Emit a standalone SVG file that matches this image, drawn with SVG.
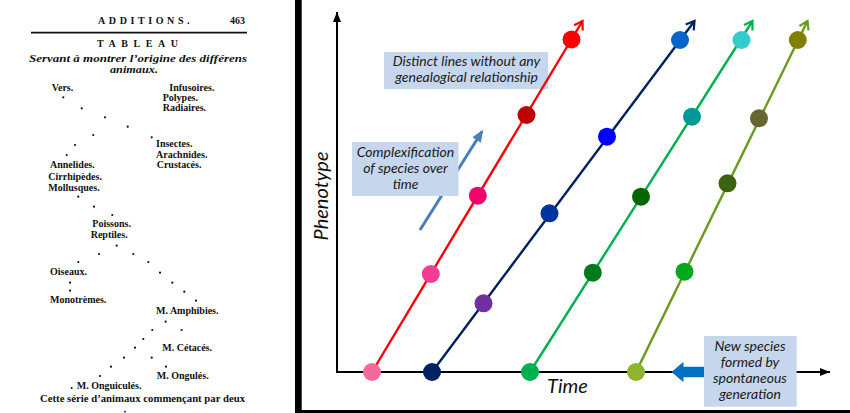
<svg xmlns="http://www.w3.org/2000/svg" width="850" height="413" viewBox="0 0 850 413">
<defs>
<style>
.pg{font-family:"Liberation Serif","DejaVu Serif",serif;font-weight:bold;font-size:10px;fill:#111}
.it{font-style:italic}
.dt{fill:#111}
.lbl{font-family:Lato,"Liberation Sans",sans-serif;font-style:italic;fill:#111}
.box{fill:#c6d6ec}
.bt{font-family:Lato,"Liberation Sans",sans-serif;font-style:italic;font-size:14px;fill:#1a1a1a;text-anchor:middle}
.ax{stroke:#000;stroke-width:2;fill:none}
.ln{fill:none;stroke-width:2.4}
</style>
<marker id="ah" markerUnits="userSpaceOnUse" markerWidth="10" markerHeight="8" refX="10" refY="4" orient="auto" overflow="visible"><path d="M0,0 L10,4 L0,8 z" fill="#000"/></marker>
<marker id="sb" markerUnits="userSpaceOnUse" markerWidth="12" markerHeight="10" refX="10" refY="5" orient="auto" overflow="visible"><path d="M0,0 L12,5 L0,10 z" fill="#4a7ebb"/></marker>
<marker id="mr" markerUnits="userSpaceOnUse" markerWidth="9" markerHeight="10" refX="8" refY="5" orient="auto" overflow="visible"><path d="M0,0 L8,5 L0,10" fill="none" stroke="#ff0000" stroke-width="2.2"/></marker>
<marker id="mn" markerUnits="userSpaceOnUse" markerWidth="9" markerHeight="10" refX="8" refY="5" orient="auto" overflow="visible"><path d="M0,0 L8,5 L0,10" fill="none" stroke="#002060" stroke-width="2.2"/></marker>
<marker id="mg" markerUnits="userSpaceOnUse" markerWidth="9" markerHeight="10" refX="8" refY="5" orient="auto" overflow="visible"><path d="M0,0 L8,5 L0,10" fill="none" stroke="#00b050" stroke-width="2.2"/></marker>
<marker id="mo" markerUnits="userSpaceOnUse" markerWidth="9" markerHeight="10" refX="8" refY="5" orient="auto" overflow="visible"><path d="M0,0 L8,5 L0,10" fill="none" stroke="#6a9a1a" stroke-width="2.2"/></marker>
</defs>
<rect width="850" height="413" fill="#fff"/>

<g id="lamarck-page">
<text class="pg" x="98" y="24" font-size="7.5" letter-spacing="3.6">ADDITIONS.</text>
<text class="pg" x="230" y="24" font-size="11">463</text>
<line x1="31" y1="32.7" x2="247" y2="32.7" stroke="#111" stroke-width="1.8"/>
<text class="pg" x="97" y="47" font-size="12.5" font-weight="normal" textLength="81" lengthAdjust="spacing">TABLEAU</text>
<text class="pg it" x="29" y="61.7" font-size="12" textLength="218" lengthAdjust="spacingAndGlyphs">Servant à montrer l’origine des différens</text>
<text class="pg it" x="110" y="72.7" font-size="12" textLength="48" lengthAdjust="spacingAndGlyphs">animaux.</text>
<text class="pg" x="51.7" y="90.7">Vers.</text>
<text class="pg" x="169.3" y="90.7">Infusoires.</text>
<text class="pg" x="162.7" y="100.7">Polypes.</text>
<text class="pg" x="162.7" y="111">Radiaires.</text>
<text class="pg" x="156" y="147.3">Insectes.</text>
<text class="pg" x="156" y="157.7">Arachnides.</text>
<text class="pg" x="156.7" y="168.3">Crustacés.</text>
<text class="pg" x="50" y="168.3">Annelides.</text>
<text class="pg" x="48.3" y="180">Cirrhipèdes.</text>
<text class="pg" x="48.3" y="191">Mollusques.</text>
<text class="pg" x="92.3" y="227.3">Poissons.</text>
<text class="pg" x="90.7" y="238.3">Reptiles.</text>
<text class="pg" x="50" y="275">Oiseaux.</text>
<text class="pg" x="50" y="303.3">Monotrèmes.</text>
<text class="pg" x="156" y="314">M.  Amphibies.</text>
<text class="pg" x="162.3" y="350.7">M.  Cétacés.</text>
<text class="pg" x="156.7" y="379">M.  Ongulés.</text>
<text class="pg" x="76.7" y="389.3">M. Onguiculés.</text>
<text class="pg" x="40" y="401.7" textLength="205" lengthAdjust="spacingAndGlyphs">Cette série d’animaux commençant par deux</text>
<g class="dt">
<circle cx="63.3" cy="97.3" r="1.1"/><circle cx="81.7" cy="108.3" r="1.1"/><circle cx="105" cy="117.3" r="1.1"/><circle cx="127.7" cy="126.7" r="1.1"/>
<circle cx="93.3" cy="135" r="1.1"/><circle cx="151.7" cy="137.3" r="1.1"/><circle cx="75" cy="145" r="1.1"/><circle cx="66.7" cy="155" r="1.1"/>
<circle cx="78.3" cy="196.7" r="1.1"/><circle cx="94" cy="206.7" r="1.1"/><circle cx="112.3" cy="215" r="1.1"/><circle cx="116.7" cy="245.7" r="1.1"/>
<circle cx="99" cy="254" r="1.1"/><circle cx="133.3" cy="254" r="1.1"/><circle cx="78.3" cy="262" r="1.1"/><circle cx="148.3" cy="262" r="1.1"/>
<circle cx="160" cy="272.7" r="1.1"/><circle cx="70" cy="282.7" r="1.1"/><circle cx="172.3" cy="282.7" r="1.1"/><circle cx="70" cy="290.7" r="1.1"/>
<circle cx="184.3" cy="291.7" r="1.1"/><circle cx="196" cy="300.7" r="1.1"/><circle cx="165.7" cy="321.7" r="1.1"/><circle cx="152.3" cy="330" r="1.1"/>
<circle cx="181.7" cy="330" r="1.1"/><circle cx="143.3" cy="339" r="1.1"/><circle cx="135" cy="347.7" r="1.1"/><circle cx="124" cy="357.7" r="1.1"/>
<circle cx="151.7" cy="357.7" r="1.1"/><circle cx="111" cy="366.7" r="1.1"/><circle cx="166" cy="366.7" r="1.1"/><circle cx="100" cy="376" r="1.1"/>
<circle cx="71.7" cy="388" r="1"/><circle cx="125" cy="411.7" r="0.9"/>
</g>
</g>

<g id="frame">
<rect x="295" y="0" width="6.7" height="413" fill="#000"/>
<rect x="295" y="410" width="555" height="3" fill="#000"/>
</g>

<g id="connectors">
<line class="ax" x1="337" y1="372" x2="337" y2="12" marker-end="url(#ah)"/>
<line class="ax" x1="336" y1="372" x2="830" y2="372" marker-end="url(#ah)"/>
<line x1="420" y1="230" x2="482" y2="131.5" stroke="#4a7ebb" stroke-width="3" marker-end="url(#sb)"/>
</g>

<g id="box-distinct">
<rect class="box" x="384" y="52" width="164" height="37"/>
<text class="bt" x="466.5" y="65.7">Distinct lines without any</text>
<text class="bt" x="466.5" y="81.7">genealogical relationship</text>
</g>

<g id="box-complex">
<rect class="box" x="352" y="142" width="106.5" height="54"/>
<text class="bt" x="405.5" y="157.3">Complexification</text>
<text class="bt" x="405.5" y="173.3">of species over</text>
<text class="bt" x="405.5" y="189">time</text>
</g>

<g id="box-new">
<rect class="box" x="704" y="336" width="92.7" height="70.7"/>
<text class="bt" x="750" y="350.7">New species</text>
<text class="bt" x="750" y="366.7">formed by</text>
<text class="bt" x="750" y="383.3">spontaneous</text>
<text class="bt" x="750" y="399">generation</text>
<polygon points="671.5,372 683.5,361.7 683.5,366.7 704,366.7 704,377.3 683.5,377.3 683.5,382.3" fill="#0070c0"/>
</g>

<g id="labels">
<text class="lbl" font-size="20" transform="translate(328,196) rotate(-90)" text-anchor="middle">Phenotype</text>
<text class="lbl" font-size="20" x="547" y="393">Time</text>
</g>

<g id="lineage-lines">
<line class="ln" stroke="#ff0000" x1="372" y1="372" x2="582.5" y2="21" marker-end="url(#mr)"/>
<line class="ln" stroke="#002060" x1="432" y1="372" x2="694.5" y2="21" marker-end="url(#mn)"/>
<line class="ln" stroke="#00b050" x1="530" y1="372" x2="752.5" y2="21" marker-end="url(#mg)"/>
<line class="ln" stroke="#6a9a1a" x1="636" y1="372" x2="807.5" y2="21" marker-end="url(#mo)"/>
</g>

<g id="red-species">
<circle cx="372" cy="372" r="9" fill="#f7699a"/>
<circle cx="430.8" cy="274" r="9" fill="#f23c96"/>
<circle cx="477.8" cy="195.7" r="9" fill="#f0056c"/>
<circle cx="526.5" cy="115" r="9" fill="#c00000"/>
<circle cx="571.5" cy="39.5" r="9" fill="#ff0000"/>
</g>
<g id="navy-species">
<circle cx="432" cy="372" r="9" fill="#002060"/>
<circle cx="483.5" cy="303.3" r="9" fill="#7030a0"/>
<circle cx="549.5" cy="213.3" r="9" fill="#0033a0"/>
<circle cx="607" cy="136.7" r="9" fill="#0000ff"/>
<circle cx="680" cy="40" r="9" fill="#0066cc"/>
</g>
<g id="green-species">
<circle cx="530" cy="372" r="9" fill="#00b050"/>
<circle cx="592.8" cy="272.7" r="9" fill="#007a1a"/>
<circle cx="641" cy="196.7" r="9" fill="#006600"/>
<circle cx="692" cy="116.7" r="9" fill="#009999"/>
<circle cx="741.5" cy="40" r="9" fill="#33cccc"/>
</g>
<g id="olive-species">
<circle cx="636" cy="372" r="9" fill="#8fb52a"/>
<circle cx="684.5" cy="271.7" r="9" fill="#00a81e"/>
<circle cx="727.5" cy="183.3" r="9" fill="#3c6410"/>
<circle cx="759" cy="118.3" r="9" fill="#666633"/>
<circle cx="797.8" cy="40" r="9" fill="#808000"/>
</g>
</svg>
